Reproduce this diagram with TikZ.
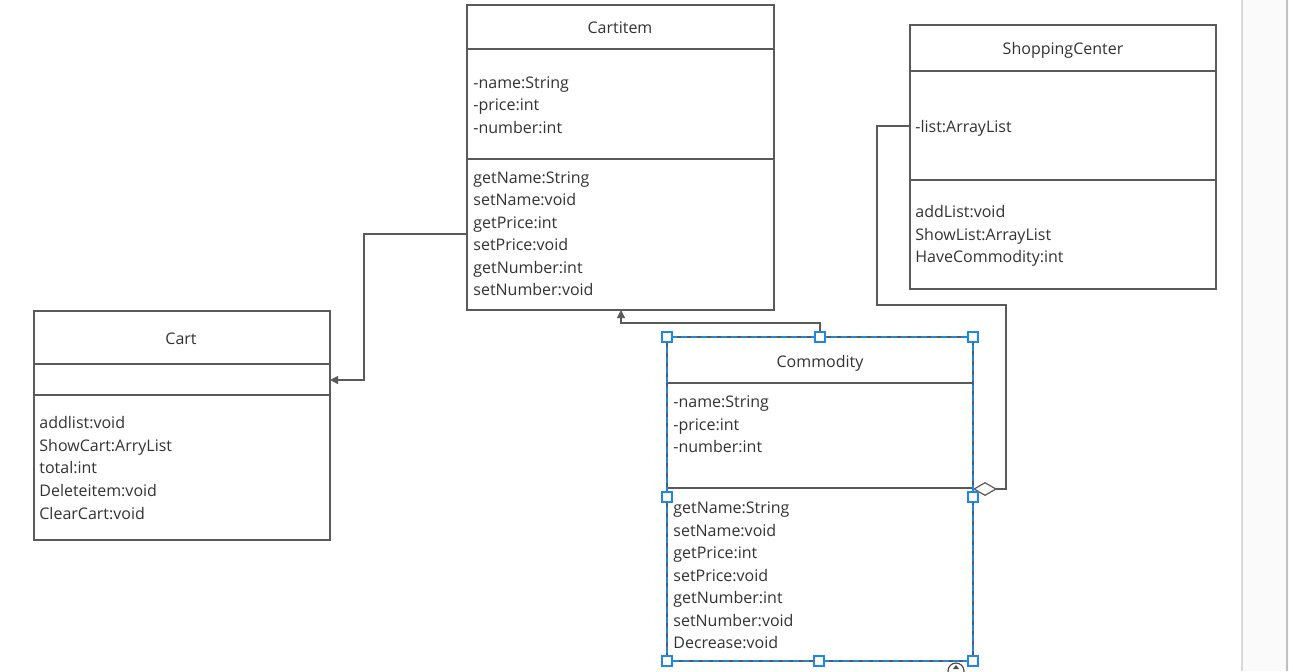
\documentclass[tikz,border=0pt]{standalone}
\usepackage{fontspec}
\setmainfont{Open Sans}
\usetikzlibrary{arrows.meta}
\definecolor{txt}{HTML}{333333}
\definecolor{ln}{HTML}{5A5A5A}
\definecolor{sel}{HTML}{1E88E5}
\tikzset{
  box/.style={draw=ln, line width=0.6pt, anchor=north west, inner sep=0pt, outer sep=0pt, fill=white},
  ttl/.style={text=txt, font=\fontsize{8}{9}\selectfont, inner sep=0pt, anchor=base},
  itm/.style={text=txt, font=\fontsize{8}{9}\selectfont, anchor=base west, inner sep=0pt},
  conn/.style={draw=ln, line width=0.6pt},
  handle/.style={draw=sel, fill=white, line width=0.6pt, minimum size=5pt, inner sep=0pt},
}
\newcommand{\bl}{6.5}
\begin{document}
\begin{tikzpicture}[x=0.5pt,y=-0.5pt]
\useasboundingbox (0,0) rectangle (1289,671);
\fill[white] (0,0) rectangle (1289,671);
\fill[black!2] (1242,0) rectangle (1289,671);
\draw[black!15, line width=0.6pt] (1242,0) -- (1242,671);
\draw[black!25, line width=0.8pt] (1287,0) -- (1287,671);

% CartItem
\node[box, minimum width=153.5pt, minimum height=152.5pt] (ci) at (467,5) {};
\draw[ln, line width=0.6pt] (467,49) -- (774,49) (467,159) -- (774,159);
\node[ttl] (citl) at (620,27+\bl) {Cartitem};
\node[itm] (ca1) at (473,82+\bl) {-name:String};
\node[itm] (ca2) at (473,104+\bl) {-price:int};
\node[itm] (ca3) at (473,127+\bl) {-number:int};
\node[itm] (cm1) at (473,177+\bl) {getName:String};
\node[itm] (cm2) at (473,199+\bl) {setName:void};
\node[itm] (cm3) at (473,222+\bl) {getPrice:int};
\node[itm] (cm4) at (473,244+\bl) {setPrice:void};
\node[itm] (cm5) at (473,267+\bl) {getNumber:int};
\node[itm] (cm6) at (473,289+\bl) {setNumber:void};

% ShoppingCenter
\node[box, minimum width=153pt, minimum height=132pt] (sc) at (910,25) {};
\draw[ln, line width=0.6pt] (910,71) -- (1216,71) (910,180) -- (1216,180);
\node[ttl] (sctl) at (1063,48+\bl) {ShoppingCenter};
\node[itm] (sa1) at (915,126+\bl) {-list:ArrayList};
\node[itm] (sm1) at (915,211+\bl) {addList:void};
\node[itm] (sm2) at (915,234+\bl) {ShowList:ArrayList};
\node[itm] (sm3) at (915,256+\bl) {HaveCommodity:int};

% Cart
\node[box, minimum width=148pt, minimum height=114.5pt] (ct) at (34,311) {};
\draw[ln, line width=0.6pt] (34,364) -- (330,364) (34,395) -- (330,395);
\node[ttl] (cttl) at (181,338+\bl) {Cart};
\node[itm] (tm1) at (39,422+\bl) {addlist:void};
\node[itm] (tm2) at (39,445+\bl) {ShowCart:ArryList};
\node[itm] (tm3) at (39,467+\bl) {total:int};
\node[itm] (tm4) at (39,490+\bl) {Deleteitem:void};
\node[itm] (tm5) at (39,513+\bl) {ClearCart:void};

% Commodity
\node[box, minimum width=153pt, minimum height=162pt] (cd) at (667,337) {};
\draw[ln, line width=0.6pt] (667,383) -- (973,383) (667,488) -- (973,488);
\node[ttl] (cdtl) at (820,361+\bl) {Commodity};
\node[itm] (da1) at (673,401+\bl) {-name:String};
\node[itm] (da2) at (673,424+\bl) {-price:int};
\node[itm] (da3) at (673,446+\bl) {-number:int};
\node[itm] (dm1) at (673,507+\bl) {getName:String};
\node[itm] (dm2) at (673,530+\bl) {setName:void};
\node[itm] (dm3) at (673,552+\bl) {getPrice:int};
\node[itm] (dm4) at (673,575+\bl) {setPrice:void};
\node[itm] (dm5) at (673,597+\bl) {getNumber:int};
\node[itm] (dm6) at (673,620+\bl) {setNumber:void};
\node[itm] (dm7) at (673,642+\bl) {Decrease:void};

% connectors
\coordinate (p1) at (467,234);
\coordinate (p2) at (330,380);
\draw[conn, -{Triangle[length=4pt,width=4pt]}] (p1) -- (364,234) -- (364,380) -- (p2);
\coordinate (q1) at (820,337);
\coordinate (q2) at (621,310);
\draw[conn, -{Triangle[length=4pt,width=4pt]}] (q1) -- (820,323) -- (621,323) -- (q2);
\coordinate (r1) at (910,126);
\coordinate (r2) at (973,489);
\draw[conn, -{Diamond[open,length=12pt,width=7pt,line width=0.6pt]}] (r1) -- (877,126) -- (877,305) -- (1006,305) -- (1006,489) -- (r2);

% selection
\draw[sel, dashed, dash pattern=on 3pt off 2pt, line width=0.6pt] (667,337) rectangle (973,661);
\foreach \n/\x/\y in {h1/667/337,h2/820/337,h3/973/337,h4/667/497,h5/973/497,h6/667/661,h7/819/661,h8/973/661}
  \node[handle] (\n) at (\x,\y) {};
\draw[black!70, line width=0.6pt] (956,671) circle (4pt);
\fill[black!70] (953,669) -- (959,669) -- (956,665) -- cycle;
\end{tikzpicture}
\end{document}
